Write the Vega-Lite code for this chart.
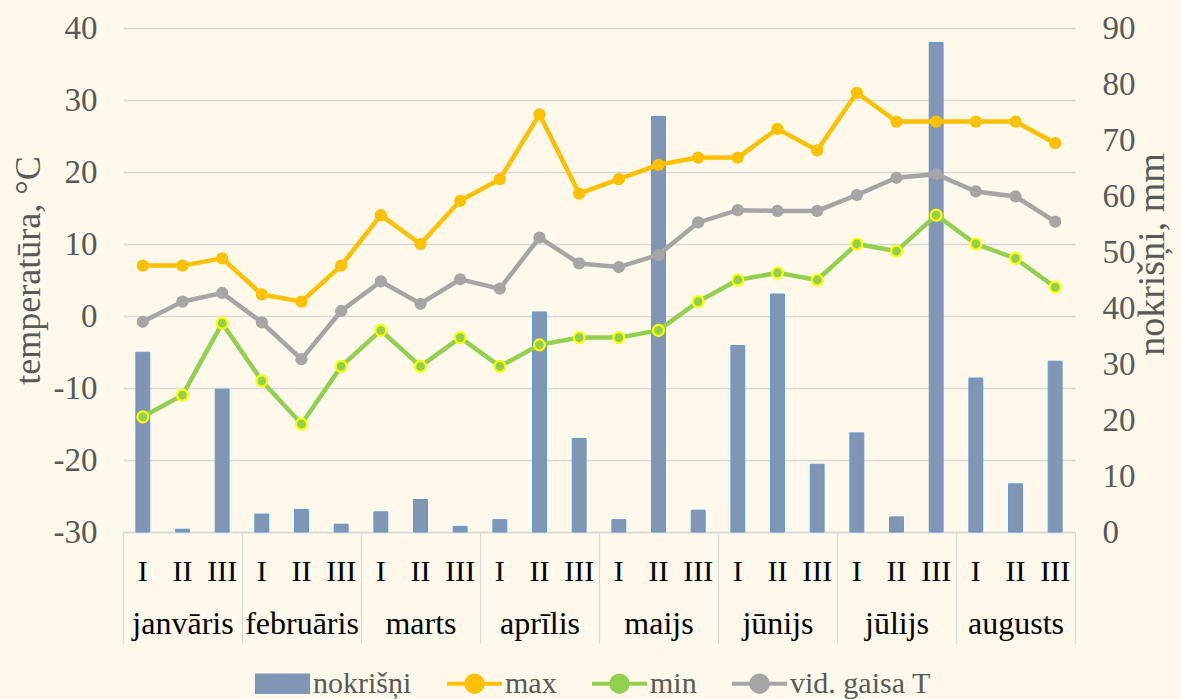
{
  "$schema": "https://vega.github.io/schema/vega-lite/v6.json",
  "width": 952,
  "height": 504,
  "autosize": {"type": "none"},
  "padding": {"left": 123, "top": 28, "right": 106, "bottom": 167},
  "background": "#FEF9EB",
  "config": {
    "view": {"stroke": null},
    "font": "Liberation Serif",
    "axis": {"labelFont": "Liberation Serif", "titleFont": "Liberation Serif", "titleFontWeight": "normal"}
  },
  "data": {
    "values": [
      {"month": "janvāris", "key": "janvāris|I", "precip": 32.1, "tmax": 7, "tmin": -14, "tavg": -0.8},
      {"month": "janvāris", "key": "janvāris|II", "precip": 0.5, "tmax": 7, "tmin": -11, "tavg": 2.0},
      {"month": "janvāris", "key": "janvāris|III", "precip": 25.5, "tmax": 8, "tmin": -1, "tavg": 3.2},
      {"month": "februāris", "key": "februāris|I", "precip": 3.2, "tmax": 3, "tmin": -9, "tavg": -0.9},
      {"month": "februāris", "key": "februāris|II", "precip": 4.0, "tmax": 2, "tmin": -15, "tavg": -6.0},
      {"month": "februāris", "key": "februāris|III", "precip": 1.4, "tmax": 7, "tmin": -7, "tavg": 0.7},
      {"month": "marts", "key": "marts|I", "precip": 3.6, "tmax": 14, "tmin": -2, "tavg": 4.8},
      {"month": "marts", "key": "marts|II", "precip": 5.8, "tmax": 10, "tmin": -7, "tavg": 1.7},
      {"month": "marts", "key": "marts|III", "precip": 1.0, "tmax": 16, "tmin": -3, "tavg": 5.1},
      {"month": "aprīlis", "key": "aprīlis|I", "precip": 2.2, "tmax": 19, "tmin": -7, "tavg": 3.8},
      {"month": "aprīlis", "key": "aprīlis|II", "precip": 39.3, "tmax": 28, "tmin": -4, "tavg": 10.9},
      {"month": "aprīlis", "key": "aprīlis|III", "precip": 16.7, "tmax": 17, "tmin": -3, "tavg": 7.3},
      {"month": "maijs", "key": "maijs|I", "precip": 2.2, "tmax": 19, "tmin": -3, "tavg": 6.8},
      {"month": "maijs", "key": "maijs|II", "precip": 74.2, "tmax": 21, "tmin": -2, "tavg": 8.5},
      {"month": "maijs", "key": "maijs|III", "precip": 3.9, "tmax": 22, "tmin": 2, "tavg": 13.0},
      {"month": "jūnijs", "key": "jūnijs|I", "precip": 33.3, "tmax": 22, "tmin": 5, "tavg": 14.7},
      {"month": "jūnijs", "key": "jūnijs|II", "precip": 42.5, "tmax": 26, "tmin": 6, "tavg": 14.6},
      {"month": "jūnijs", "key": "jūnijs|III", "precip": 12.1, "tmax": 23, "tmin": 5, "tavg": 14.6},
      {"month": "jūlijs", "key": "jūlijs|I", "precip": 17.7, "tmax": 31, "tmin": 10, "tavg": 16.8},
      {"month": "jūlijs", "key": "jūlijs|II", "precip": 2.7, "tmax": 27, "tmin": 9, "tavg": 19.2},
      {"month": "jūlijs", "key": "jūlijs|III", "precip": 87.4, "tmax": 27, "tmin": 14, "tavg": 19.7},
      {"month": "augusts", "key": "augusts|I", "precip": 27.5, "tmax": 27, "tmin": 10, "tavg": 17.3},
      {"month": "augusts", "key": "augusts|II", "precip": 8.6, "tmax": 27, "tmin": 8, "tavg": 16.6},
      {"month": "augusts", "key": "augusts|III", "precip": 30.5, "tmax": 24, "tmin": 4, "tavg": 13.1}
    ]
  },
  "layer": [
    {
      "encoding": {
        "x": {
          "field": "key", "type": "nominal", "sort": null,
          "scale": {"type": "band", "paddingInner": 0, "paddingOuter": 0},
          "axis": {
            "orient": "bottom", "title": null, "domain": true, "domainColor": "#D9D9D9", "domainWidth": 1.3,
            "ticks": false, "grid": false, "labelAngle": 0, "labelOverlap": false,
            "labelExpr": "split(datum.value, '|')[1]",
            "labelPadding": 24, "labelFontSize": 30, "labelColor": "#000000"
          }
        }
      },
      "layer": [
        {
          "mark": {"type": "bar", "width": {"band": 0.35}, "stroke": "#5B9BD5", "strokeWidth": 1},
          "encoding": {
            "y": {
              "field": "precip", "type": "quantitative",
              "scale": {"domain": [0, 90], "nice": false, "zero": true},
              "axis": {
                "orient": "right", "title": "nokrišņi, mm", "values": [0, 10, 20, 30, 40, 50, 60, 70, 80, 90],
                "grid": false, "domain": false, "ticks": false,
                "labelPadding": 27, "labelFontSize": 33, "labelColor": "#595959",
                "titleFontSize": 38, "titleColor": "#595959", "titleAngle": 270, "titleBaseline": "top", "titlePadding": -2,
                "titleY": 226
              }
            },
            "color": {
              "datum": "nokrišņi",
              "scale": {"domain": ["nokrišņi", "max", "min", "vid. gaisa T"], "range": ["#8096B4", "#FFC000", "#92D050", "#A5A5A5"]},
              "legend": {
                "title": null, "orient": "none", "direction": "horizontal", "legendX": 130, "legendY": 626,
                "padding": 0, "columnPadding": 27, "labelOffset": 1,
                "symbolSize": 3025, "symbolStrokeWidth": 4,
                "symbolType": {"expr": "datum.value === 'nokrišņi' ? 'M-0.93,-0.3H0.93V0.3H-0.93Z' : 'M-1,0H1M0.3,0A0.3,0.3 0 1,1 -0.3,0A0.3,0.3 0 1,1 0.3,0'"},
                "labelFont": "Liberation Serif", "labelFontSize": 30, "labelColor": "#595959", "labelBaseline": "middle",
                "encode": {
                  "symbols": {
                    "stroke": {"value": {"expr": "datum.value === 'nokrišņi' ? '#5B9BD5' : scale('color', datum.value)"}},
                    "strokeWidth": {"value": {"expr": "datum.value === 'nokrišņi' ? 1.5 : 4"}}
                  },
                  "labels": {
                    "dy": {"value": -4}
                  }
                }
              }
            }
          }
        },
        {
          "mark": {"type": "line", "strokeWidth": 4.5},
          "encoding": {
            "y": {
              "field": "tmax", "type": "quantitative",
              "scale": {"domain": [-30, 40], "nice": false, "zero": false},
              "axis": {
                "orient": "left", "title": "temperatūra, °C", "values": [-30, -20, -10, 0, 10, 20, 30, 40],
                "labelExpr": "'' + datum.value",
                "grid": true, "gridColor": "#D9D9D9", "gridWidth": 1.3, "domain": false, "ticks": false,
                "labelPadding": 26, "labelFontSize": 33, "labelColor": "#595959",
                "titleFontSize": 36, "titleColor": "#595959", "titlePadding": 6, "titleY": 242
              }
            },
            "color": {"datum": "max", "scale": {"domain": ["nokrišņi", "max", "min", "vid. gaisa T"], "range": ["#8096B4", "#FFC000", "#92D050", "#A5A5A5"]}}
          }
        },
        {
          "mark": {"type": "point", "filled": true, "size": 150, "fill": "#FFC000", "opacity": 1},
          "encoding": {
            "y": {"field": "tmax", "type": "quantitative", "scale": {"domain": [-30, 40], "nice": false, "zero": false}, "axis": null}
          }
        },
        {
          "mark": {"type": "line", "strokeWidth": 4.5},
          "encoding": {
            "y": {"field": "tmin", "type": "quantitative", "scale": {"domain": [-30, 40], "nice": false, "zero": false}, "axis": null},
            "color": {"datum": "min", "scale": {"domain": ["nokrišņi", "max", "min", "vid. gaisa T"], "range": ["#8096B4", "#FFC000", "#92D050", "#A5A5A5"]}}
          }
        },
        {
          "mark": {"type": "point", "filled": true, "size": 120, "fill": "#92D050", "stroke": "#FFFF00", "strokeWidth": 2.2, "opacity": 1},
          "encoding": {
            "y": {"field": "tmin", "type": "quantitative", "scale": {"domain": [-30, 40], "nice": false, "zero": false}, "axis": null}
          }
        },
        {
          "mark": {"type": "line", "strokeWidth": 4.5},
          "encoding": {
            "y": {"field": "tavg", "type": "quantitative", "scale": {"domain": [-30, 40], "nice": false, "zero": false}, "axis": null},
            "color": {"datum": "vid. gaisa T", "scale": {"domain": ["nokrišņi", "max", "min", "vid. gaisa T"], "range": ["#8096B4", "#FFC000", "#92D050", "#A5A5A5"]}}
          }
        },
        {
          "mark": {"type": "point", "filled": true, "size": 150, "fill": "#A5A5A5", "opacity": 1},
          "encoding": {
            "y": {"field": "tavg", "type": "quantitative", "scale": {"domain": [-30, 40], "nice": false, "zero": false}, "axis": null}
          }
        }
      ],
      "resolve": {"scale": {"y": "independent"}}
    },
    {
      "mark": {"type": "point", "opacity": 0},
      "encoding": {
        "x": {
          "field": "month", "type": "nominal", "sort": null,
          "scale": {"type": "band", "paddingInner": 0, "paddingOuter": 0},
          "axis": {
            "orient": "bottom", "title": null, "domain": false, "grid": false, "labelAngle": 0,
            "ticks": true, "tickBand": "extent", "tickSize": 111, "tickColor": "#D9D9D9", "tickWidth": 1.3,
            "labelPadding": -35, "labelFontSize": 32, "labelColor": "#000000"
          }
        }
      }
    }
  ],
  "resolve": {"scale": {"x": "independent"}}
}
